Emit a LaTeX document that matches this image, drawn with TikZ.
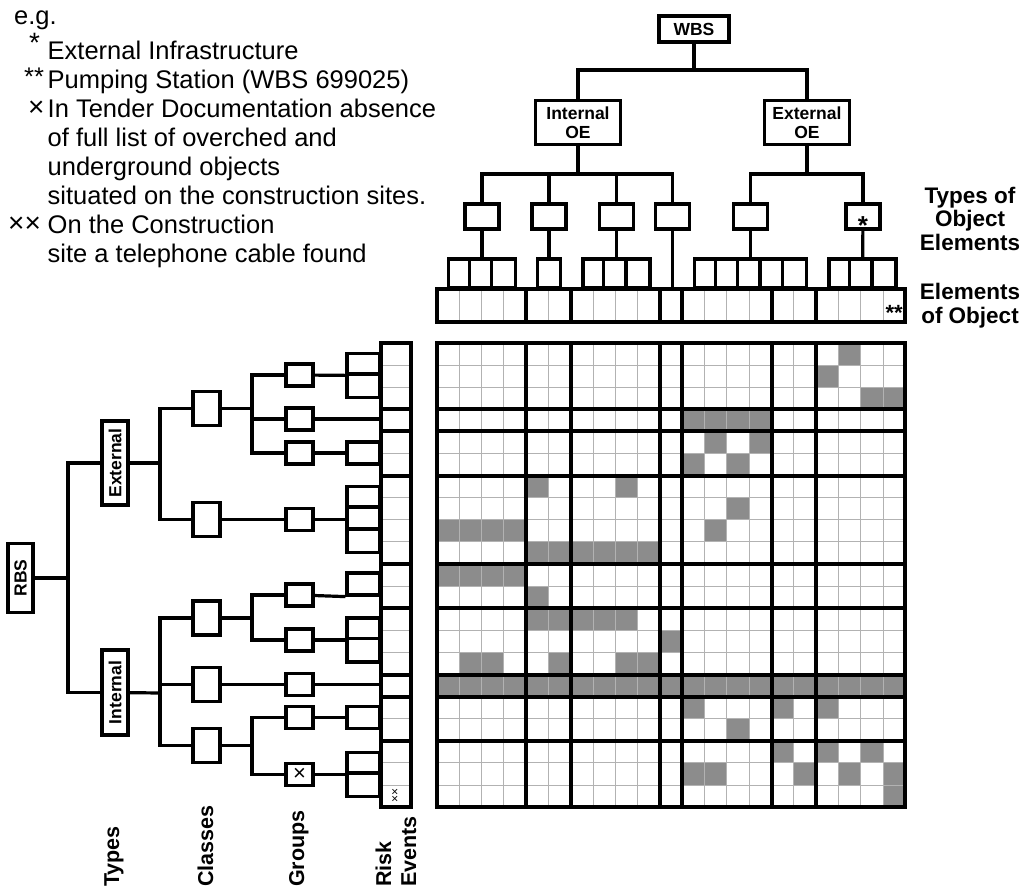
\documentclass[tikz,border=0pt]{standalone}
\usepackage{fontspec}
\setmainfont{Liberation Sans}
\usetikzlibrary{positioning}
\def\cellw{22.3}
\def\cellh{22.1}
\def\mx{437}
\def\my{343}

\tikzset{
	link/.style={line width=3.2pt},
	box/.style={draw,line width=3.2pt,inner sep=0pt,align=center,font=\fontsize{17.5}{19}\selectfont\bfseries},
	tbox/.style={box,minimum width=34,minimum height=25},
	cbox/.style={box,minimum width=27,minimum height=34},
	gbox/.style={box,minimum width=27,minimum height=22},
	comb/.style={draw,line width=3.2pt,inner sep=0pt},
	heavy/.style={line width=4pt,line cap=rect},
	fine/.style={line width=0.9pt,black!30},
	hit/.style={fill=black!45},
	note/.style={inner sep=0pt,anchor=base west,font=\fontsize{25.5}{29}\selectfont},
	head/.style={inner sep=0pt,align=center,font=\fontsize{22.5}{23.5}\selectfont\bfseries},
	vlabel/.style={inner sep=0pt,rotate=90,anchor=base west,font=\fontsize{21.5}{24}\selectfont\bfseries},
}

\begin{document}
\begin{tikzpicture}[x=1pt,y=-1pt]
\useasboundingbox (0,0) rectangle (1028,893);

% legend
\node[note]								(eg)	at (14,25)		{e.g.};
\node[note,font=\fontsize{28}{29}\selectfont]	(m1)	at (29,53)		{*};
\node[note]								(m2)	at (24,85.5)	{**};
\node[note,font=\fontsize{28}{29}\selectfont]	(m3)	at (28,117)		{×};
\node[note,font=\fontsize{28}{29}\selectfont]	(m4)	at (8,233)		{××};
\foreach \txt [count=\i] in {{External Infrastructure},{Pumping Station (WBS 699025)},{In Tender Documentation absence},{of full list of overched and},{underground objects},{situated on the construction sites.},{On the Construction},{site a telephone cable found}}
	\node[note]	(n\i)	at (47.5,{60+(\i-1)*28.86})	{\txt};

% WBS tree
\node[box,minimum width=70,minimum height=26]	(wbs)	at (694,29)		{WBS};
\node[box,minimum width=85,minimum height=44]	(ioe)	at (578,122.5)	{Internal\\OE};
\node[box,minimum width=85,minimum height=44]	(eoe)	at (807,122.5)	{External\\OE};
\coordinate	(wbus)	at (694,70);
\coordinate	(ibus)	at (578,174);
\coordinate	(ebus)	at (807,174);

\node[tbox]	(t1)	at (482,216.5)		{};
\node[tbox]	(t2)	at (549,216.5)		{};
\node[tbox]	(t3)	at (616.5,216.5)	{};
\node[tbox]	(t4)	at (672.5,216.5)	{};
\node[tbox]	(t5)	at (750.5,216.5)	{};
\node[tbox,font=\fontsize{26}{26}\selectfont\bfseries]	(t6)	at (863,216.5)	{\raisebox{-18pt}[0pt][0pt]{*}};

\node[comb,minimum width=3*\cellw,minimum height=29]	(e1)	at (482,273.5)		{};
\node[comb,minimum width=\cellw,minimum height=29]		(e2)	at (549,273.5)		{};
\node[comb,minimum width=3*\cellw,minimum height=29]	(e3)	at (616.5,273.5)	{};
\node[comb,minimum width=5*\cellw,minimum height=29]	(e5)	at (750.5,273.5)	{};
\node[comb,minimum width=3*\cellw,minimum height=29]	(e6)	at (862.5,273.5)	{};
\foreach \k/\n in {e1/3,e3/3,e5/5,e6/3}
	\foreach \i in {2,...,\n}
		\draw[link] ([xshift={(\i-1)*\cellw}]\k.north west) -- ([xshift={(\i-1)*\cellw}]\k.south west);

% elements of object
\foreach \c in {1,...,20}
	\draw[fine] ({\mx+\c*\cellw},290) -- ({\mx+\c*\cellw},321);
\foreach \c in {4,6,10,11,15,17}
	\draw[heavy] ({\mx+\c*\cellw},289) -- ({\mx+\c*\cellw},322);
\node[draw,heavy,inner sep=0pt,minimum width=21*\cellw,minimum height=33]	(elem)	at ({\mx+10.5*\cellw},305.5)	{};
\node[inner sep=0pt,anchor=base east,font=\fontsize{22}{22}\selectfont\bfseries]	(ast)	at (903,320)	{**};

\draw[link] (wbs) -- (wbus);
\draw[link] (ioe) |- (wbus) -| (eoe);
\draw[link] (ioe) -- (ibus);
\draw[link] (t1) |- (ibus) -| (t4);
\draw[link] (t2) -- (t2 |- ibus);
\draw[link] (t3) -- (t3 |- ibus);
\draw[link] (eoe) -- (ebus);
\draw[link] (t5) |- (ebus) -| (t6);
\draw[link] (t1) -- (e1);
\draw[link] (t2) -- (e2);
\draw[link] (t3) -- (e3);
\draw[link] (t5) -- (e5);
\draw[link] (t6) -- (e6);
\draw[link] (t4) -- (t4 |- elem.north);

\node[head]							(eoo)							at (970,305.8)	{Elements\\of Object};
\node[head,on grid,above=87.3pt of eoo]	(toe)									{Types of\\Object\\Elements};

% matrix
\foreach \r/\c in {1/19,2/18,3/20,3/21,4/12,4/13,4/14,4/15,5/13,5/15,6/12,6/14,
	7/5,7/9,8/14,9/1,9/2,9/3,9/4,9/13,10/5,10/6,10/7,10/8,10/9,10/10,
	11/1,11/2,11/3,11/4,12/5,13/5,13/6,13/7,13/8,13/9,14/11,15/2,15/3,15/6,15/9,15/10,
	17/12,17/16,17/18,18/14,19/16,19/18,19/20,20/12,20/13,20/17,20/19,20/21,21/21}
	\fill[hit] ({\mx+(\c-1)*\cellw},{\my+(\r-1)*\cellh}) rectangle ++(\cellw,\cellh);
\fill[hit] (\mx,{\my+15*\cellh}) rectangle ++({21*\cellw},\cellh);
\foreach \i in {1,...,20} {
	\draw[fine] ({\mx+\i*\cellw},\my) -- ++(0,{21*\cellh});
	\draw[fine] (\mx,{\my+\i*\cellh}) -- ++({21*\cellw},0);
	\draw[fine] (381,{\my+\i*\cellh}) -- (411,{\my+\i*\cellh});
}
\foreach \c in {0,4,6,10,11,15,17,21}
	\draw[heavy] ({\mx+\c*\cellw},\my) -- ++(0,{21*\cellh});
\foreach \r in {0,3,4,6,10,12,15,16,18,21}
	\draw[heavy] (\mx,{\my+\r*\cellh}) -- ++({21*\cellw},0);

% risk events
\foreach \r in {3,4,6,10,12,15,16,18}
	\draw[heavy] (381,{\my+\r*\cellh}) -- (411,{\my+\r*\cellh});
\node[draw,heavy,inner sep=0pt,minimum width=30,minimum height=21*\cellh]	(risk)	at (396,{\my+10.5*\cellh})	{};
\node[inner sep=0pt,rotate=90,font=\fontsize{12}{12}\selectfont]	(xx)	at (395.5,795)	{××};

% RBS tree
\node[box,rotate=90,minimum width=69,minimum height=25]	(rbs)	at (20.5,578)	{RBS};
\node[box,rotate=90,minimum width=84,minimum height=26]	(ext)	at (115,463)	{External};
\node[box,rotate=90,minimum width=85,minimum height=26]	(int)	at (115,692.5)	{Internal};
\coordinate	(rbus)	at (68,578);
\coordinate	(ebr)	at (160,463);
\coordinate	(ibr)	at (160,693);

\node[cbox]	(c1)	at (206.5,408.5)	{};
\node[cbox]	(c2)	at (206.5,519.5)	{};
\node[cbox]	(c3)	at (206.5,618)		{};
\node[cbox]	(c4)	at (206.5,684.5)	{};
\node[cbox]	(c5)	at (206.5,745.5)	{};
\coordinate	(b1)	at (252,408.5);
\coordinate	(b3)	at (252,618);
\coordinate	(b5)	at (252,745.5);

\node[gbox]	(g1)	at (299.5,375)		{};
\node[gbox]	(g2)	at (299.5,419)		{};
\node[gbox]	(g3)	at (299.5,453)		{};
\node[gbox]	(g4)	at (299.5,519.5)	{};
\node[gbox]	(g5)	at (299.5,595)		{};
\node[gbox]	(g6)	at (299.5,640)		{};
\node[gbox]	(g7)	at (299.5,684.5)	{};
\node[gbox]	(g8)	at (299.5,717.5)	{};
\node[gbox,font=\fontsize{22}{22}\selectfont]	(g9)	at (299.5,774.5)	{×};

\node[comb,minimum width=33,minimum height=44]	(k1)	at (363.5,375.5)	{};
\node[comb,minimum width=33,minimum height=22]	(k3)	at (363.5,453)		{};
\node[comb,minimum width=33,minimum height=66]	(k4)	at (363.5,519.5)	{};
\node[comb,minimum width=33,minimum height=22]	(k5)	at (363.5,584)		{};
\node[comb,minimum width=33,minimum height=44]	(k6)	at (363.5,640)		{};
\node[comb,minimum width=33,minimum height=22]	(k8)	at (363.5,717.5)	{};
\node[comb,minimum width=33,minimum height=44]	(k9)	at (363.5,774.5)	{};
\foreach \k/\n in {k1/2,k4/3,k6/2,k9/2}
	\foreach \i in {2,...,\n}
		\draw[link] ([yshift={-(\i-1)*22}]\k.north west) -- ([yshift={-(\i-1)*22}]\k.north east);

\draw[link] (rbs) -- (rbus);
\draw[link] (ext) -| (rbus) |- (int);
\draw[link] (ext) -- (ebr);
\draw[link] (c1) -| (ebr) |- (c2);
\draw[link] (int) -- (ibr);
\draw[link] (c3) -| (ibr) |- (c5);
\draw[link] (c4) -- (c4 -| ibr);
\draw[link] (c1) -- (b1);
\draw[link] (g1) -| (b1) |- (g3);
\draw[link] (g2) -- (g2 -| b1);
\draw[link] (c2) -- (g4);
\draw[link] (c3) -- (b3);
\draw[link] (g5) -| (b3) |- (g6);
\draw[link] (c4) -- (g7);
\draw[link] (c5) -- (b5);
\draw[link] (g8) -| (b5) |- (g9);
\draw[link] (g1) -- (k1);
\draw[link] (g3) -- (k3);
\draw[link] (g4) -- (k4);
\draw[link] (g5) -- (k5.south west);
\draw[link] (g6) -- (k6);
\draw[link] (g8) -- (k8);
\draw[link] (g9) -- (k9);
\draw[link] (g2) -- (g2 -| risk.west);
\draw[link] (g7) -- (g7 -| risk.west);

\node[vlabel]	(lt)	at (119,887)	{Types};
\node[vlabel]	(lc)	at (213,887)	{Classes};
\node[vlabel]	(lg)	at (304,887)	{Groups};
\node[vlabel]	(lr)	at (391,887)	{Risk};
\node[vlabel]	(le)	at (416,887)	{Events};
\end{tikzpicture}
\end{document}
